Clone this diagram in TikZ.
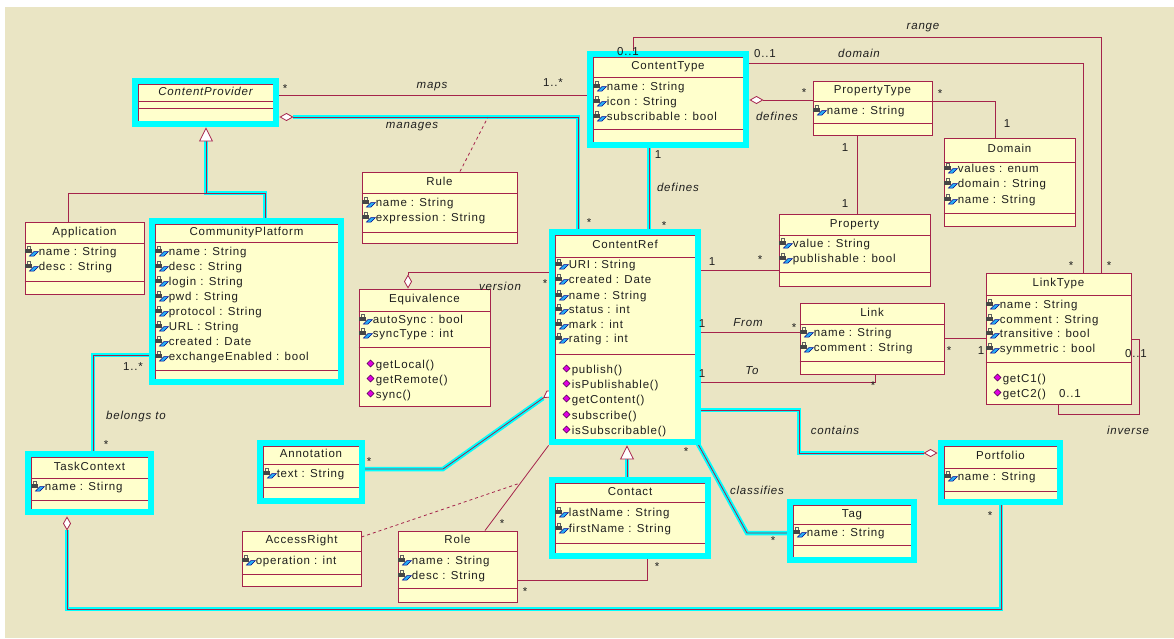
\documentclass[tikz,border=0pt]{standalone}
\usepackage{fontspec}
\setmainfont{Liberation Sans}[LetterSpace=7]
\usetikzlibrary{calc,fit,arrows.meta}
\pgfdeclarelayer{bg}
\pgfdeclarelayer{lines}
\pgfsetlayers{bg,lines,main}

\definecolor{bgbeige}{RGB}{234,229,196}
\definecolor{boxfill}{RGB}{255,255,204}
\definecolor{umlred}{RGB}{165,35,75}
\definecolor{hicyan}{RGB}{0,255,255}
\definecolor{txtgray}{RGB}{30,30,30}
\definecolor{keyblue}{RGB}{40,175,245}
\definecolor{opmag}{RGB}{225,0,225}

\tikzset{
  classbox/.style={draw=umlred, fill=boxfill, line width=0.9pt, inner sep=0pt},
  classline/.style={draw=umlred, line width=0.9pt},
  hiframe/.style={draw=hicyan, line width=6pt},
  assoc/.style={draw=umlred, line width=0.8pt},
  agg/.style={{Diamond[fill=white, length=14pt, width=8pt]}-},
  gen/.style={-{Triangle[fill=white, length=14pt, width=14pt]}},
  hiline/.style={assoc, preaction={draw=hicyan, line width=4.5pt, -}},
  hiagg/.style={assoc, agg, preaction={draw=hicyan, line width=4.5pt, -, shorten <=14pt}},
  higen/.style={assoc, gen, preaction={draw=hicyan, line width=4.5pt, -, shorten >=14pt}},
  txt/.style={font=\fontsize{11.5}{13}\selectfont, text=txtgray, inner sep=0pt, text height=8pt, text depth=2pt},
  multlbl/.style={font=\fontsize{11.5}{13}\selectfont, text=txtgray, inner sep=0pt},
  rolename/.style={multlbl, font=\fontsize{11.5}{13}\selectfont\itshape},
  attricon/.pic={
    \draw[line width=0.9pt, draw=gray!75!black] (-5,-2.5) -- (-5,-5.5) -- (-1.2,-5.5) -- (-1.2,-2.5);
    \fill[gray!55!black] (-6.6,-2.8) rectangle (0.4,1.2);
    \filldraw[fill=keyblue, draw=blue!55!black, line width=0.5pt] (-2.5,4) -- (2,-0.5) -- (6.5,-0.5) -- (2,4) -- cycle;
  },
  opicon/.pic={
    \filldraw[fill=opmag, draw=violet!60!black, line width=0.5pt] (0,-4) -- (3.5,-0.5) -- (0,3) -- (-3.5,-0.5) -- cycle;
  }
}

\newcommand{\umlclass}[8]{%
  \node[classbox, fit={(#2,#3) (#4,#5)}] (#1) {};
  \draw[classline] (#1.west |- 0,#6) -- (#1.east |- 0,#6);
  \draw[classline] (#1.west |- 0,#7) -- (#1.east |- 0,#7);
  \node[txt] (#1-title) at ($(#1.north)!0.5!(#1.north |- 0,#6)$) {#8};
}
\newcommand{\umlattr}[3]{%
  \pic at ($(#1.west |- 0,#2)+(7.5,0)$) {attricon};
  \node[txt, anchor=west] (#1-#2) at ($(#1.west |- 0,#2)+(14,0)$) {#3};
}
\newcommand{\umlop}[3]{%
  \pic at ($(#1.west |- 0,#2)+(12,-1)$) {opicon};
  \node[txt, anchor=west] (#1-#2) at ($(#1.west |- 0,#2)+(17,0)$) {#3};
}
\newcommand{\hibox}[1]{%
  \draw[hiframe] ($(#1.north west)+(-3,-3)$) rectangle ($(#1.south east)+(3,3)$);
}

\begin{document}
\begin{tikzpicture}[x=1pt,y=-1pt]
\useasboundingbox (0,0) rectangle (1174,638);
\begin{pgfonlayer}{bg}
\fill[white] (0,0) rectangle (1174,638);
\fill[bgbeige] (5,7) rectangle (1174,638);
\end{pgfonlayer}

% classes
\umlclass{cprov}{138}{84}{273}{121}{101}{108}{\itshape ContentProvider}

\umlclass{ctype}{593}{57}{743}{142}{77}{129}{ContentType}
\umlattr{ctype}{87}{name : String}
\umlattr{ctype}{102}{icon : String}
\umlattr{ctype}{117}{subscribable : bool}

\umlclass{ptype}{813}{81}{932}{135}{101}{123}{PropertyType}
\umlattr{ptype}{111}{name : String}

\umlclass{domain}{944}{138}{1075}{226}{162}{213}{Domain}
\umlattr{domain}{169}{values : enum}
\umlattr{domain}{184}{domain : String}
\umlattr{domain}{200}{name : String}

\umlclass{property}{779}{214}{930}{286}{235}{272}{Property}
\umlattr{property}{244}{value : String}
\umlattr{property}{259}{publishable : bool}

\umlclass{linktype}{986}{273}{1131}{404}{295}{362}{LinkType}
\foreach \y/\t in {305/name : String, 320/comment : String, 334/transitive : bool, 349/symmetric : bool}
  {\umlattr{linktype}{\y}{\t}}
\umlop{linktype}{379}{getC1()}
\umlop{linktype}{394}{getC2()}

\umlclass{link}{800}{303}{944}{374}{324}{361}{Link}
\umlattr{link}{333}{name : String}
\umlattr{link}{348}{comment : String}

\umlclass{cref}{555}{235}{695}{439}{257}{354}{ContentRef}
\foreach \y/\t in {265/URI : String, 280/created : Date, 296/name : String, 310/status : int, 325/mark : int, 339/rating : int}
  {\umlattr{cref}{\y}{\t}}
\foreach \y/\t in {370/publish(), 385/isPublishable(), 400/getContent(), 416/subscribe(), 431/isSubscribable()}
  {\umlop{cref}{\y}{\t}}

\umlclass{equiv}{359}{289}{490}{406}{311}{347}{Equivalence}
\umlattr{equiv}{320}{autoSync : bool}
\umlattr{equiv}{334}{syncType : int}
\umlop{equiv}{365}{getLocal()}
\umlop{equiv}{380}{getRemote()}
\umlop{equiv}{395}{sync()}

\umlclass{rule}{362}{172}{517}{243}{193}{232}{Rule}
\umlattr{rule}{203}{name : String}
\umlattr{rule}{218}{expression : String}

\umlclass{app}{25}{222}{144}{294}{243}{281}{Application}
\umlattr{app}{252}{name : String}
\umlattr{app}{267}{desc : String}

\umlclass{cplat}{155}{224}{338}{379}{242}{370}{CommunityPlatform}
\foreach \y/\t in {252/name : String, 267/desc : String, 282/login : String, 297/pwd : String, 312/protocol : String, 327/URL : String, 342/created : Date, 357/exchangeEnabled : bool}
  {\umlattr{cplat}{\y}{\t}}

\umlclass{task}{31}{457}{148}{509}{478}{500}{TaskContext}
\umlattr{task}{487}{name : Stirng}

\umlclass{annot}{263}{446}{359}{498}{464}{487}{Annotation}
\umlattr{annot}{474}{text : String}

\umlclass{access}{242}{531}{361}{586}{551}{574}{AccessRight}
\umlattr{access}{561}{operation : int}

\umlclass{role}{398}{531}{517}{602}{551}{588}{Role}
\umlattr{role}{561}{name : String}
\umlattr{role}{576}{desc : String}

\umlclass{contact}{555}{483}{705}{553}{502}{543}{Contact}
\umlattr{contact}{513}{lastName : String}
\umlattr{contact}{529}{firstName : String}

\umlclass{tag}{793}{505}{911}{557}{524}{545}{Tag}
\umlattr{tag}{533}{name : String}

\umlclass{portf}{944}{446}{1057}{499}{468}{491}{Portfolio}
\umlattr{portf}{477}{name : String}

\foreach \c in {cprov, ctype, cref, cplat, task, annot, contact, tag, portf}
  {\hibox{\c}}

% connectors
\begin{pgfonlayer}{lines}
\draw[assoc] (cprov.east |- 0,95) -- (ctype.west |- 0,95);
\draw[hiagg] ($(cprov.east |- 0,117)+(6,0)$) -- (578,117) -- (cref.north -| 578,0);
\draw[assoc, dashed] (rule.north -| 460,0) -- (488,117);
\draw[hiline] (ctype.south -| 649,0) -- (cref.north -| 649,0);
\draw[assoc, agg] ($(ctype.east |- 0,100)+(6,0)$) -- (ptype.west |- 0,100);
\draw[assoc] (ptype.east |- 0,101) -- (995,101) -- (domain.north -| 995,0);
\draw[assoc] (ptype.south -| 857,0) -- (property.north -| 857,0);
\draw[assoc] (ctype.north -| 633,0) -- (633,37) -- (1101,37) -- (linktype.north -| 1101,0);
\draw[assoc] (ctype.east |- 0,63) -- (1083,63) -- (linktype.north -| 1083,0);
\draw[assoc] (cref.east |- 0,270) -- (property.west |- 0,270);
\draw[assoc] (cref.east |- 0,332) -- (link.west |- 0,332);
\draw[assoc] (cref.east |- 0,382) -- (875,382) -- (link.south -| 875,0);
\draw[assoc] (link.east |- 0,338) -- (linktype.west |- 0,338);
\draw[assoc] (linktype.east |- 0,339) -- (1139,339) -- (1139,414) -- (1058,414) -- (linktype.south -| 1058,0);
\draw[hiagg] ($(portf.west |- 0,453)+(-6,0)$) -- (799,453) -- (799,410) -- (cref.east |- 0,410);
\draw[hiline] (cref.south east) -- (747,533) -- (tag.west |- 0,533);
\draw[higen] (contact.north -| 627,0) -- ($(cref.south -| 627,0)+(0,6)$);
\draw[assoc] (contact.south -| 647,0) -- (647,580) -- (role.east |- 0,580);
\coordinate (rc-top) at ($(cref.south west)+(-6,6)$);
\coordinate (rc-bot) at (role.north -| 485,0);
\draw[assoc] (rc-bot) -- (rc-top);
\coordinate (rc-mid) at ($(rc-bot)!0.56!(rc-top)$);
\draw[assoc, dashed] (access.east |- 0,537) -- (rc-mid);
\draw[hiagg] (cref.west |- 0,390) -- (443,469) -- (annot.east |- 0,469);
\draw[assoc, agg] (equiv.north -| 408,0) -- (408,272) -- (cref.west |- 0,272);
\draw[higen] (cplat.north -| 265,0) -- (265,193) -- (206,193) -- ($(cprov.south -| 206,0)+(0,6)$);
\draw[assoc] (app.north -| 68,0) -- (68,193) -- (206,193);
\draw[hiline] (cplat.west |- 0,355) -- (93,355) -- (task.north -| 93,0);
\draw[hiagg] ($(task.south -| 67,0)+(0,7)$) -- (67,609) -- (1001,609) -- (portf.south -| 1001,0);
\end{pgfonlayer}

% labels
\node[multlbl] (m-maps1) at (285,89) {*};
\node[rolename] (r-maps) at (432,87) {maps};
\node[multlbl] (m-maps2) at (553,83) {1..*};
\node[rolename] (r-manages) at (412,127) {manages};
\node[multlbl] (m-manages) at (589,223) {*};
\node[multlbl] (m-def1) at (658,155) {1};
\node[rolename] (r-def1) at (678,187) {defines};
\node[multlbl] (m-def2) at (664,226) {*};
\node[multlbl] (m-def3) at (804,93) {*};
\node[rolename] (r-def2) at (777,116) {defines};
\node[multlbl] (m-dom1) at (940,94) {*};
\node[multlbl] (m-dom2) at (1007,124) {1};
\node[multlbl] (m-prop1) at (845,148) {1};
\node[multlbl] (m-prop2) at (845,204) {1};
\node[rolename] (r-range) at (923,28) {range};
\node[rolename] (r-domain) at (859,53) {domain};
\node[multlbl] (m-range1) at (628,52) {0..1};
\node[multlbl] (m-domain1) at (765,54) {0..1};
\node[multlbl] (m-domain2) at (1071,266) {*};
\node[multlbl] (m-range2) at (1109,266) {*};
\node[multlbl] (m-cp1) at (712,262) {1};
\node[multlbl] (m-cp2) at (760,260) {*};
\node[multlbl] (m-from1) at (702,324) {1};
\node[rolename] (r-from) at (748,323) {From};
\node[multlbl] (m-from2) at (794,328) {*};
\node[multlbl] (m-to1) at (702,374) {1};
\node[rolename] (r-to) at (752,371) {To};
\node[multlbl] (m-to2) at (873,386) {*};
\node[multlbl] (m-lt1) at (949,351) {*};
\node[multlbl] (m-lt2) at (981,351) {1};
\node[multlbl] (m-inv1) at (1136,354) {0..1};
\node[multlbl] (m-inv2) at (1070,394) {0..1};
\node[rolename] (r-inv) at (1128,430) {inverse};
\node[rolename] (r-contains) at (835,430) {contains};
\node[multlbl] (m-cls1) at (686,452) {*};
\node[rolename] (r-cls) at (757,490) {classifies};
\node[multlbl] (m-cls2) at (773,541) {*};
\node[multlbl] (m-portf) at (990,516) {*};
\node[multlbl] (m-role1) at (657,567) {*};
\node[multlbl] (m-role2) at (525,592) {*};
\node[multlbl] (m-role3) at (502,524) {*};
\node[multlbl] (m-annot) at (369,462) {*};
\node[rolename] (r-version) at (500,286) {version};
\node[multlbl] (m-version) at (545,284) {*};
\node[multlbl] (m-bel1) at (133,367) {1..*};
\node[rolename] (r-bel) at (136,417) {belongs to};
\node[multlbl] (m-bel2) at (106,445) {*};
\end{tikzpicture}
\end{document}
